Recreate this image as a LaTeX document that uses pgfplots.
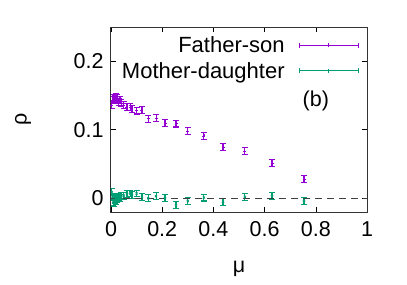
\documentclass[border=0pt]{standalone}
\usepackage{pgfplots}
\pgfplotsset{compat=1.18}
\usepackage{fontspec}
\setmainfont{Liberation Sans}
\definecolor{gpurple}{HTML}{9400D3}
\definecolor{ggreen}{HTML}{009E73}
\begin{document}
\begin{tikzpicture}
\path[use as bounding box] (-111bp,-73bp) rectangle (296bp,212bp);
\begin{axis}[
  at={(0,0)}, anchor=south west,
  scale only axis, width=256bp, height=185bp,
  xmin=0, xmax=1, ymin=-0.02, ymax=0.25,
  xtick={0,0.2,0.4,0.6,0.8,1},
  ytick={0,0.1,0.2},
  tick align=inside,
  major tick length=5bp,
  tick style={black, line width=0.6bp},
  axis line style={black!80, line width=1bp},
  font=\fontsize{21.5bp}{24bp}\selectfont,
  /pgf/number format/assume math mode=true,
  xticklabel style={yshift=-6bp},
  yticklabel style={xshift=-4bp},
  xlabel={μ}, ylabel={ρ},
  xlabel style={at={(axis description cs:0.5,0)}, anchor=center, yshift=-57bp},
  ylabel style={at={(axis description cs:0,0.5)}, anchor=center, yshift=88bp},
  legend style={draw=none, fill=none, at={(axis description cs:0.972,0.965)}, anchor=north east,
     font=\fontsize{22bp}{23bp}\selectfont, row sep=4bp, column sep=12bp, inner sep=1bp},
  legend cell align=right,
  legend plot pos=right,
  legend image code/.code={
    \draw[#1, line width=1bp, mark=none] (0bp,0bp) -- (59bp,0bp);
    \draw[#1, line width=1bp, mark=none] (0bp,-2.5bp) -- (0bp,2.5bp);
    \draw[#1, line width=1bp, mark=none] (59bp,-2.5bp) -- (59bp,2.5bp);
    \draw[#1, line width=0.8bp, mark=none] (29bp,-2bp) -- (29bp,2bp);
  },
  error bars/y dir=both, error bars/y explicit,
  error bars/error bar style={line width=1.1bp},
  error bars/error mark options={rotate=90, mark size=3bp, line width=1.1bp},
]
\addplot[gpurple, only marks, mark=+, mark size=1.5bp, mark options={line width=0.8bp}]
 table[x=x, y=y, y error=e] {
x y e
0.003 0.136 0.005
0.006 0.143 0.005
0.009 0.146 0.005
0.012 0.147 0.005
0.015 0.145 0.005
0.018 0.148 0.005
0.021 0.144 0.005
0.025 0.146 0.005
0.030 0.141 0.005
0.035 0.143 0.005
0.040 0.139 0.005
0.050 0.136 0.005
0.0625 0.133 0.005
0.075 0.133 0.005
0.082 0.130 0.005
0.100 0.128 0.005
0.121 0.129 0.005
0.145 0.116 0.005
0.176 0.117 0.005
0.211 0.110 0.005
0.254 0.109 0.005
0.300 0.098 0.005
0.363 0.091 0.005
0.4375 0.0745 0.005
0.523 0.0686 0.005
0.629 0.051 0.005
0.754 0.028 0.005
};
\addlegendentry{Father-son}
\addplot[ggreen, only marks, mark=x, mark size=1.5bp, mark options={line width=0.8bp}]
 table[x=x, y=y, y error=e] {
x y e
0.003 0.009 0.005
0.006 0.002 0.005
0.009 -0.005 0.005
0.012 -0.007 0.005
0.015 -0.002 0.005
0.018 -0.004 0.005
0.021 0.001 0.005
0.025 -0.001 0.005
0.030 0.002 0.005
0.035 0.000 0.005
0.040 0.003 0.005
0.050 0.004 0.005
0.0625 0.006 0.005
0.075 0.007 0.005
0.082 0.005 0.005
0.100 0.007 0.005
0.121 0.002 0.005
0.145 0.000 0.005
0.176 0.003 0.005
0.211 0.000 0.005
0.254 -0.010 0.005
0.300 -0.004 0.005
0.363 0.001 0.005
0.4375 -0.005 0.005
0.523 0.002 0.005
0.629 0.003 0.005
0.754 -0.004 0.005
};
\addlegendentry{Mother-daughter}
\addplot[black!75, line width=1.5bp, dash pattern=on 7bp off 5bp, no marks, forget plot, error bars/y dir=none] coordinates {(0,0) (1,0)};
\node[font=\fontsize{21.5bp}{24bp}\selectfont] at (axis cs:0.80,0.142) {(b)};
\end{axis}
\end{tikzpicture}
\end{document}
